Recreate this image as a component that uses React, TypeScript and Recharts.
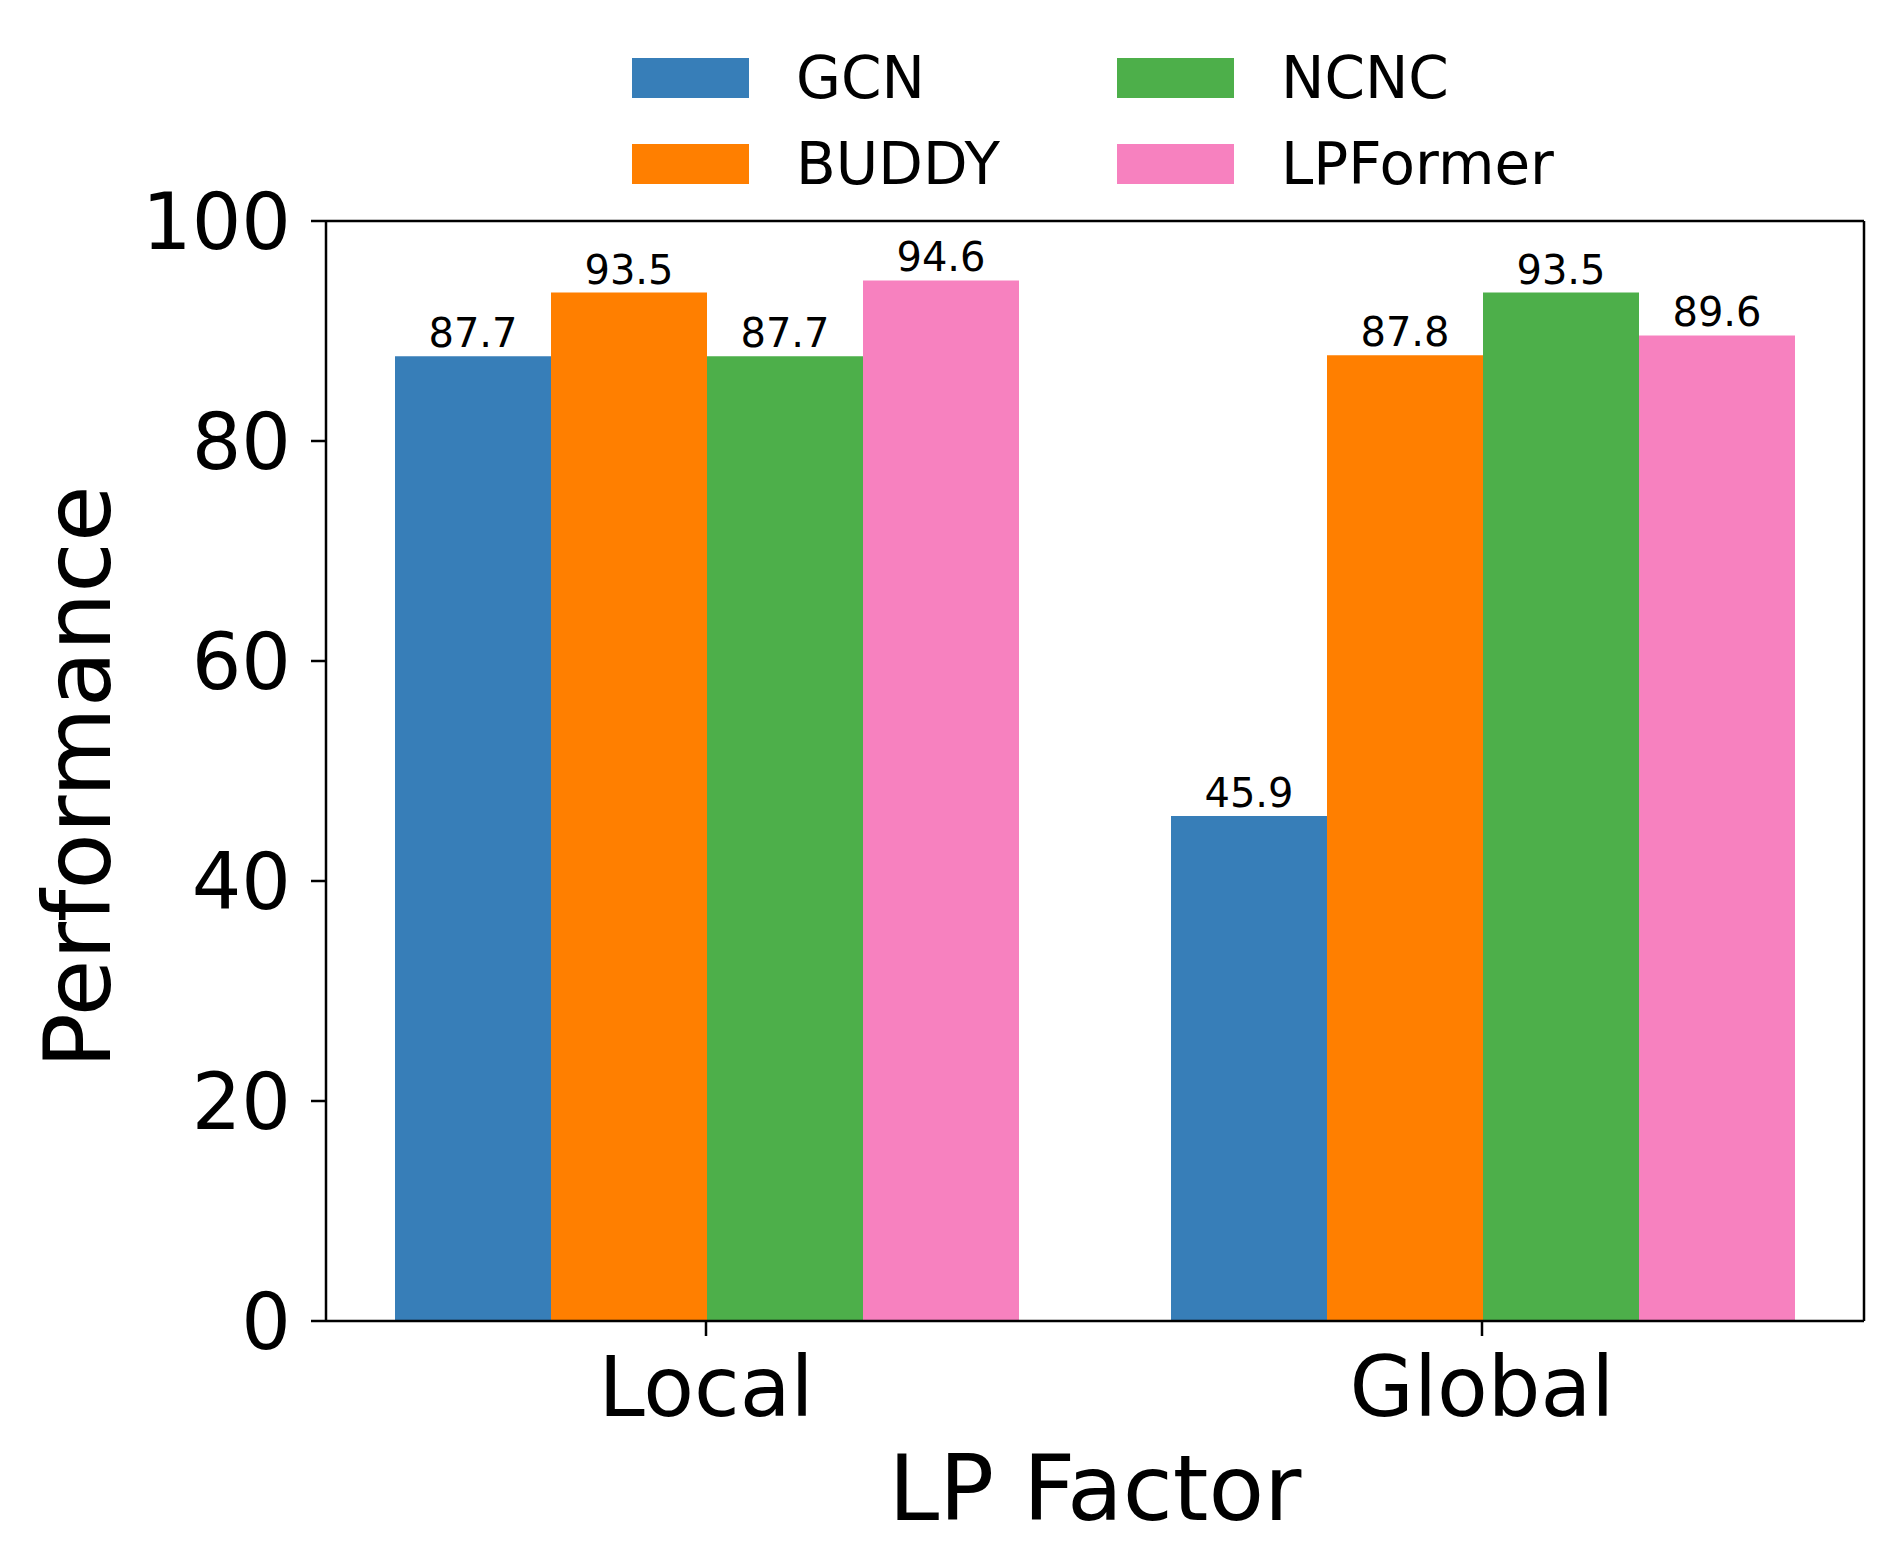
import { BarChart, Bar, XAxis, YAxis, Legend, LabelList, Label } from "recharts";

const categories = ["Local", "Global"];
const gcn = [87.7, 45.9];
const buddy = [93.5, 87.8];
const ncnc = [87.7, 93.5];
const lpformer = [94.6, 89.6];
const yTicks = [0, 20, 40, 60, 80, 100];

const series = [
  { key: "GCN", values: gcn, color: "#377eb8" },
  { key: "BUDDY", values: buddy, color: "#ff7f00" },
  { key: "NCNC", values: ncnc, color: "#4daf4a" },
  { key: "LPFormer", values: lpformer, color: "#f781bf" },
];

const data = categories.map((name, i) => {
  const row: Record<string, string | number> = { name };
  series.forEach((s) => {
    row[s.key] = s.values[i];
  });
  return row;
});

const seriesIndex = (name: string) => series.findIndex((s) => s.key === name);

// matplotlib-style legend: 2 columns, filled column by column
// eslint-disable-next-line @typescript-eslint/no-explicit-any
const renderLegend = (props: any) => {
  // eslint-disable-next-line @typescript-eslint/no-explicit-any
  const items = [...(props.payload ?? [])].sort(
    (a: any, b: any) => seriesIndex(a.value) - seriesIndex(b.value)
  );
  return (
    <div style={{ position: "relative", width: 1892, height: 0 }}>
      {/* eslint-disable-next-line @typescript-eslint/no-explicit-any */}
      {items.map((item: any, i: number) => {
        const col = Math.floor(i / 2);
        const row = i % 2;
        return (
          <div
            key={item.value}
            style={{
              position: "absolute",
              left: 632 + col * 485,
              top: 58 + row * 86,
              height: 40,
              display: "flex",
              alignItems: "center",
              whiteSpace: "nowrap",
            }}
          >
            <span
              style={{
                display: "inline-block",
                width: 117,
                height: 40,
                background: item.color,
              }}
            />
            <span
              style={{
                marginLeft: 47,
                fontSize: 58,
                lineHeight: "40px",
                color: "#000",
              }}
            >
              {item.value}
            </span>
          </div>
        );
      })}
    </div>
  );
};

// eslint-disable-next-line @typescript-eslint/no-explicit-any
const YTitle = (props: any) => {
  const { viewBox } = props;
  const cx = viewBox.x + 110;
  const cy = viewBox.y + viewBox.height / 2 + 6;
  return (
    <text
      x={cx}
      y={cy}
      transform={`rotate(-90, ${cx}, ${cy})`}
      textAnchor="middle"
      fontSize={92}
      fill="#000"
    >
      Performance
    </text>
  );
};

const axisStroke = { stroke: "#000", strokeWidth: 2.5 };

export default function App() {
  return (
    <div
      style={{
        position: "absolute",
        left: 0,
        top: 0,
        width: 1892,
        height: 1567,
        background: "#fff",
        fontFamily: "'DejaVu Sans', sans-serif",
      }}
    >
      <BarChart
        width={1892}
        height={1567}
        data={data}
        margin={{ top: 220, right: 27, bottom: 0, left: 0 }}
        barCategoryGap={77}
        barGap={0}
      >
        {series.map((s) => (
          <Bar
            key={s.key}
            dataKey={s.key}
            fill={s.color}
            isAnimationActive={false}
          >
            <LabelList
              dataKey={s.key}
              position="top"
              offset={9}
              fontSize={40}
              fill="#000"
              formatter={(v: unknown) => Number(v).toFixed(1)}
            />
          </Bar>
        ))}
        <XAxis
          dataKey="name"
          height={246}
          padding={{ left: -8, right: -6 }}
          tickSize={15}
          tickMargin={21}
          tick={{ fontSize: 83, fill: "#000" }}
          axisLine={axisStroke}
          tickLine={axisStroke}
        >
          <Label value="LP Factor" position="insideBottom" offset={47} fontSize={91} fill="#000" />
        </XAxis>
        <XAxis
          xAxisId="top"
          dataKey="name"
          orientation="top"
          height={1}
          tick={false}
          tickLine={false}
          axisLine={axisStroke}
        />
        <YAxis
          width={326}
          domain={[0, 100]}
          ticks={yTicks}
          interval={0}
          tickSize={15}
          tickMargin={20}
          tick={{ fontSize: 78, fill: "#000" }}
          axisLine={axisStroke}
          tickLine={axisStroke}
          label={<YTitle />}
        />
        <YAxis
          yAxisId="right"
          orientation="right"
          width={1}
          domain={[0, 100]}
          tick={false}
          tickLine={false}
          axisLine={axisStroke}
        />
        <Legend
          verticalAlign="top"
          content={renderLegend}
          wrapperStyle={{ top: 0, left: 0, width: 1892, height: 0 }}
        />
      </BarChart>
    </div>
  );
}
